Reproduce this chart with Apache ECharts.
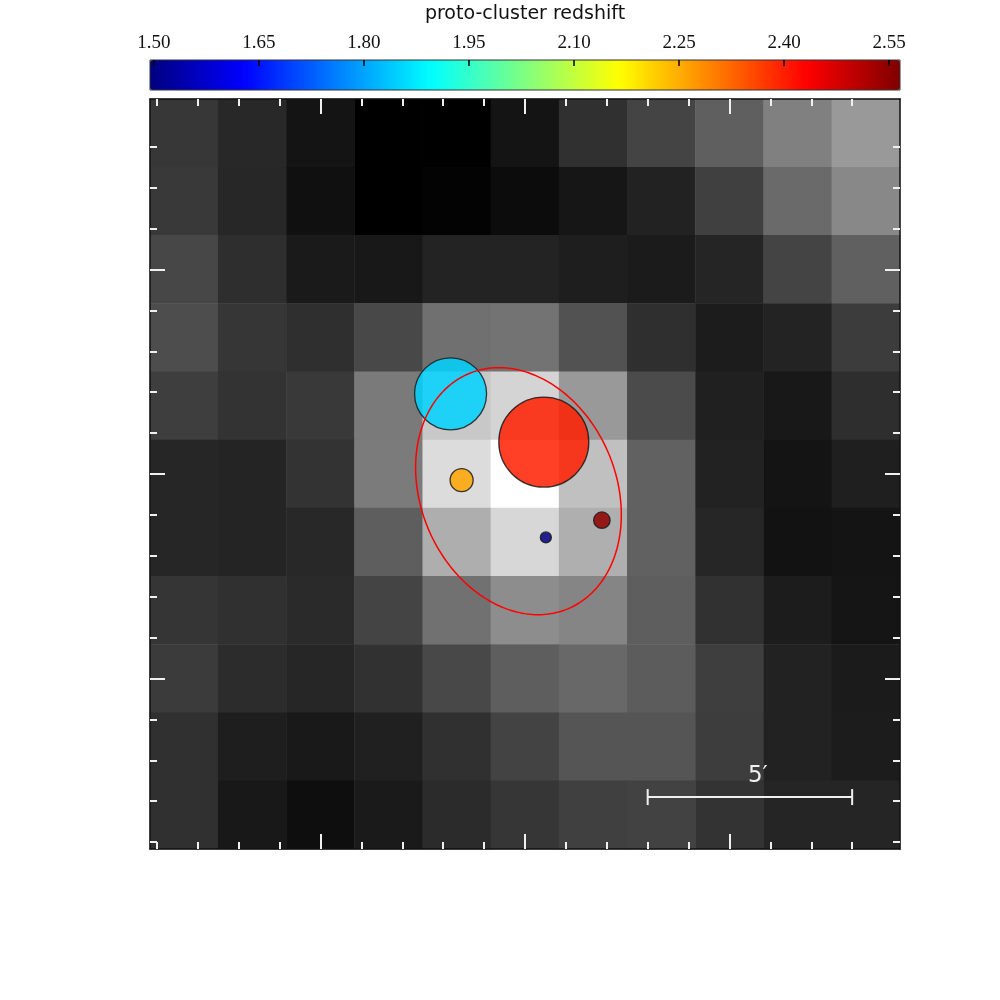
<!DOCTYPE html>
<html><head><meta charset="utf-8">
<script src="https://cdn.jsdelivr.net/npm/echarts@6/dist/echarts.min.js"></script>
<style>html,body{margin:0;padding:0;background:#fff}#c{width:1000px;height:1000px}</style>
</head><body><div id="c"></div>
<script>
// ---- data ----
const columns = ['1','2','3','4','5','6','7','8','9','10','11'];
const rows = ['1','2','3','4','5','6','7','8','9','10','11']; // top to bottom
// gray-level intensity of each pixel (0 = black, 255 = white), rows listed top to bottom
const intensity = [
  [55, 40, 20,  0,   0,  20,  48,  68,  95, 128, 153],
  [57, 39, 16,  0,   3,  12,  22,  34,  64, 106, 136],
  [71, 46, 26, 24,  35,  35,  30,  27,  37,  68,  96],
  [77, 54, 47, 72, 112, 115,  82,  47,  28,  35,  60],
  [62, 51, 57, 122, 200, 212, 153,  75,  32,  24,  46],
  [38, 36, 51, 123, 220, 255, 192,  97,  34,  20,  31],
  [38, 36, 40, 94, 174, 215, 175,  97,  38,  18,  20],
  [53, 48, 42, 68, 113, 141, 133,  94,  49,  28,  21],
  [59, 44, 38, 49,  72,  94, 104,  92,  62,  34,  27],
  [48, 30, 25, 32,  48,  67,  85,  85,  61,  34,  28],
  [48, 24, 14, 26,  43,  54,  64,  66,  51,  37,  37]
];
// proto-clusters: offsets in arcmin from field centre, redshift, relative weight
const clusterX = [-1.82, 0.46, -1.55, 1.88, 0.51];
const clusterY = [ 1.96, 0.78, -0.15, -1.13, -1.55];
const clusterZ = [ 1.85, 2.40, 2.26, 2.55, 1.50];
const clusterWeight = [7.2, 9.0, 2.3, 1.65, 1.1];
// red ellipse: centre x, centre y, semi-major, semi-minor (arcmin), angle (deg)
const ellipse = [-0.16, -0.42, 3.12, 2.39, 113];
// scale bar: x start, x end, y (arcmin)
const scaleBar = [3, 8, -7.9];
const scaleBarLabel = '5\u2032';
const colorbarTicks = [1.50, 1.65, 1.80, 1.95, 2.10, 2.25, 2.40, 2.55];
const colorbarRange = [1.4943, 2.5657];
const colorbarTitle = 'proto-cluster redshift';
const majorTicks = [-5, 0, 5];
const minorTicks = [-9, -8, -7, -6, -4, -3, -2, -1, 1, 2, 3, 4, 6, 7, 8];
const fieldHalf = 9.17;

// ---- chart ----
const jet = ['#000080','#0000ff','#0080ff','#00ffff','#80ff80','#ffff00','#ff8000','#ff0000','#800000'];
const heatData = [];
intensity.forEach((row, r) => row.forEach((v, c) => heatData.push([c, r, v])));
const clusterData = clusterX.map((x, i) => [x, clusterY[i], clusterZ[i], clusterWeight[i]]);
const colorbarTickData = colorbarTicks.map(v => [v, 1]);

const G = {left: 150, top: 99, width: 750, height: 750, outerBoundsMode: 'none'};
const tickColor = '#f0f0f0';
function valAxis(grid, pos, ticks, len, line) {
  return {
    gridIndex: grid, type: 'value', position: pos, min: -fieldHalf, max: fieldHalf, z: 10,
    axisLine: {show: line, onZero: false, lineStyle: {color: '#111', width: 1.5}},
    axisTick: {show: true, inside: true, length: len, customValues: ticks, lineStyle: {color: tickColor, width: 2}},
    axisLabel: {show: false}, splitLine: {show: false}
  };
}

const chart = echarts.init(document.getElementById('c'), null, {renderer: 'canvas'});
chart.setOption({
  animation: false,
  backgroundColor: '#fff',
  textStyle: {fontFamily: 'DejaVu Sans'},
  grid: [
    Object.assign({}, G),
    Object.assign({}, G),
    Object.assign({}, G),
    {left: 150, top: 60, width: 750, height: 30, show: true, borderColor: '#333', borderWidth: 1,
     backgroundColor: 'transparent', z: 10, outerBoundsMode: 'none'}
  ],
  xAxis: [
    {gridIndex: 0, type: 'category', data: columns, show: false},
    valAxis(1, 'bottom', majorTicks, 15, true),
    valAxis(1, 'top', majorTicks, 15, true),
    valAxis(2, 'bottom', minorTicks, 7, false),
    valAxis(2, 'top', minorTicks, 7, false),
    {
      gridIndex: 3, type: 'value', position: 'top', min: colorbarRange[0], max: colorbarRange[1], z: 10,
      axisLine: {show: false},
      axisTick: {show: false},
      axisLabel: {show: true, customValues: colorbarTicks, formatter: v => Number(v).toFixed(2), margin: 7,
        fontFamily: 'Liberation Serif', fontSize: 19, color: '#111'},
      splitLine: {show: false},
      name: colorbarTitle, nameLocation: 'middle', nameGap: 36,
      nameTextStyle: {fontFamily: 'DejaVu Sans', fontSize: 19, color: '#111'}
    }
  ],
  yAxis: [
    {gridIndex: 0, type: 'category', data: rows, inverse: true, show: false},
    valAxis(1, 'left', majorTicks, 15, true),
    valAxis(1, 'right', majorTicks, 15, true),
    valAxis(2, 'left', minorTicks, 7, false),
    valAxis(2, 'right', minorTicks, 7, false),
    {gridIndex: 3, type: 'value', min: 0, max: 1, show: false}
  ],
  visualMap: [
    {type: 'continuous', seriesIndex: 0, dimension: 2, min: 0, max: 255, show: false,
     inRange: {color: ['#000000', '#ffffff']}},
    {type: 'continuous', seriesIndex: 1, dimension: 2, min: colorbarRange[0], max: colorbarRange[1],
     orient: 'horizontal', left: 150, top: 60, itemWidth: 30, itemHeight: 750, padding: 0,
     calculable: false, hoverLink: false, realtime: false,
     inRange: {color: jet}, textStyle: {color: 'transparent'}}
  ],
  series: [
    {type: 'heatmap', xAxisIndex: 0, yAxisIndex: 0, data: heatData, progressive: 0,
     emphasis: {disabled: true}, itemStyle: {borderWidth: 0}},
    {type: 'scatter', xAxisIndex: 1, yAxisIndex: 1, data: clusterData, z: 3,
     symbolSize: d => d[3] * 10,
     itemStyle: {opacity: 0.85, borderColor: '#1a1a1a', borderWidth: 1.3},
     emphasis: {disabled: true}},
    {type: 'custom', xAxisIndex: 1, yAxisIndex: 1, data: [ellipse], z: 4, silent: true,
     renderItem: function (params, api) {
       const cx = api.value(0), cy = api.value(1), a = api.value(2), b = api.value(3);
       const th = api.value(4) * Math.PI / 180;
       const pts = [];
       for (let i = 0; i <= 240; i++) {
         const t = i / 240 * 2 * Math.PI;
         const lx = a * Math.cos(t), ly = b * Math.sin(t);
         pts.push(api.coord([cx + lx * Math.cos(th) - ly * Math.sin(th), cy + lx * Math.sin(th) + ly * Math.cos(th)]));
       }
       return {type: 'polyline', shape: {points: pts}, style: {stroke: '#ff0000', fill: null, lineWidth: 1.5}};
     }},
    {type: 'custom', xAxisIndex: 1, yAxisIndex: 1, data: [scaleBar], z: 5, silent: true,
     renderItem: function (params, api) {
       const y = api.value(2);
       const p0 = api.coord([api.value(0), y]);
       const p1 = api.coord([api.value(1), y]);
       const st = {stroke: '#f0f0f0', lineWidth: 2};
       return {type: 'group', children: [
         {type: 'line', shape: {x1: p0[0], y1: p0[1], x2: p1[0], y2: p1[1]}, style: st},
         {type: 'line', shape: {x1: p0[0], y1: p0[1] - 8, x2: p0[0], y2: p0[1] + 8}, style: st},
         {type: 'line', shape: {x1: p1[0], y1: p1[1] - 8, x2: p1[0], y2: p1[1] + 8}, style: st},
         {type: 'text', x: (p0[0] + p1[0]) / 2 + 8, y: p0[1] - 21,
          style: {text: scaleBarLabel, fill: '#f0f0f0', font: '23px "DejaVu Sans"', align: 'center', verticalAlign: 'middle'}}
       ]};
     }},
    {type: 'custom', xAxisIndex: 5, yAxisIndex: 5, data: colorbarTickData, z: 10, silent: true,
     renderItem: function (params, api) {
       const p = api.coord([api.value(0), api.value(1)]);
       return {type: 'line', shape: {x1: p[0], y1: p[1], x2: p[0], y2: p[1] + 6},
               style: {stroke: '#000', lineWidth: 1.5}};
     }}
  ]
});
</script></body></html>
